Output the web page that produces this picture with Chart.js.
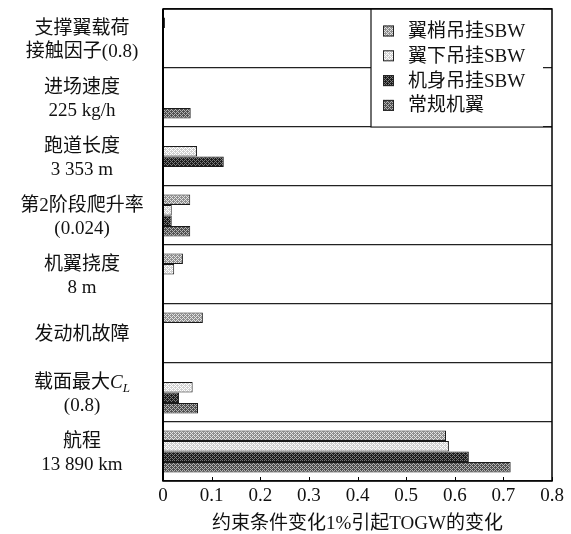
<!DOCTYPE html>
<html>
<head>
<meta charset="utf-8">
<script src="https://cdn.jsdelivr.net/npm/chart.js@4.4.0/dist/chart.umd.min.js"></script>
<style>
  html, body { margin: 0; padding: 0; background: #fff; }
  #wrap { width: 571px; height: 534px; }
</style>
</head>
<body>
<div id="wrap"><canvas id="c" width="571" height="534"></canvas></div>
<script>
// Constraint categories (each entry = lines of the axis label)
const categories = [
  ['支撑翼载荷', '接触因子(0.8)'],
  ['进场速度', '225 kg/h'],
  ['跑道长度', '3 353 m'],
  ['第2阶段爬升率', '(0.024)'],
  ['机翼挠度', '8 m'],
  ['发动机故障'],
  ['载面最大C_L', '(0.8)'],
  ['航程', '13 890 km']
];

const seriesNames = ['翼梢吊挂SBW', '翼下吊挂SBW', '机身吊挂SBW', '常规机翼'];

// TOGW change per 1% constraint change
const wingtipSBW      = [0.004, null, null,  0.056, 0.041, 0.082, null,  0.582];
const underwingSBW    = [null,  null, 0.070, 0.018, 0.023, null,  0.061, 0.588];
const fuselageSBW     = [null,  null, 0.125, 0.018, null,  null,  0.033, 0.629];
const conventionalWing = [null, 0.057, null, 0.056, null,  null,  0.072, 0.715];

const xTickValues = [0, 0.1, 0.2, 0.3, 0.4, 0.5, 0.6, 0.7, 0.8];
const xTitle = '约束条件变化1%引起TOGW的变化';

const FONT = "'Liberation Serif', 'Noto Sans CJK SC', serif";

// Dithered grey fills for the bars
function makePattern(dark, light) {
  const t = document.createElement('canvas');
  t.width = 4; t.height = 4;
  const g = t.getContext('2d');
  const map = [
    [1, 0, 1, 0],
    [0, 0, 0, 1],
    [1, 0, 1, 0],
    [0, 1, 0, 0]
  ];
  for (let y = 0; y < 4; y++) {
    for (let x = 0; x < 4; x++) {
      g.fillStyle = map[y][x] ? light : dark;
      g.fillRect(x, y, 1, 1);
    }
  }
  return document.getElementById('c').getContext('2d').createPattern(t, 'repeat');
}

const fills = [
  makePattern('#8e8e8e', '#e2e2e2'),
  makePattern('#cfcfcf', '#ffffff'),
  makePattern('#1c1c1c', '#7a7a7a'),
  makePattern('#505050', '#b4b4b4')
];

const seriesValues = [wingtipSBW, underwingSBW, fuselageSBW, conventionalWing];

const framePlugin = {
  id: 'frame',
  afterDatasetsDraw(chart) {
    const ctx = chart.ctx;
    const a = chart.chartArea;
    const xs = chart.scales.x;
    const ys = chart.scales.y;
    ctx.save();

    // inward tick marks on the bottom axis
    ctx.strokeStyle = '#000';
    ctx.lineWidth = 1;
    xTickValues.forEach(v => {
      const px = Math.round(xs.getPixelForValue(v)) + 0.5;
      ctx.beginPath();
      ctx.moveTo(px, a.bottom);
      ctx.lineTo(px, a.bottom - 4);
      ctx.stroke();
    });

    // legend box in the upper right corner
    const sepY = (ys.getPixelForValue(1) + ys.getPixelForValue(2)) / 2;
    const lx = a.right - 181;
    ctx.fillStyle = '#fff';
    ctx.fillRect(lx, a.top, a.right - 9 - lx, sepY - a.top);
    ctx.strokeStyle = '#111';
    ctx.lineWidth = 1.2;
    ctx.beginPath();
    ctx.moveTo(lx, a.top);
    ctx.lineTo(lx, sepY);
    ctx.lineTo(a.right, sepY);
    ctx.stroke();

    ctx.font = '19px ' + FONT;
    ctx.textBaseline = 'middle';
    ctx.textAlign = 'left';
    chart.data.datasets.forEach((ds, i) => {
      const cy = a.top + 22 + i * 24.8;
      ctx.fillStyle = ds.backgroundColor;
      ctx.fillRect(lx + 12, cy - 5.5, 11, 11);
      ctx.strokeStyle = '#222';
      ctx.lineWidth = 1;
      ctx.strokeRect(lx + 12.5, cy - 5, 10, 10);
      ctx.fillStyle = '#111';
      ctx.fillText(ds.label, lx + 37, cy + 1);
    });

    // plot frame
    ctx.strokeStyle = '#000';
    ctx.lineWidth = 1.5;
    ctx.strokeRect(a.left, a.top, a.right - a.left, a.bottom - a.top);
    ctx.lineWidth = 2;
    ctx.beginPath();
    ctx.moveTo(a.left, a.top);
    ctx.lineTo(a.left, a.bottom);
    ctx.stroke();

    // category labels, centred to the left of the plot
    const cx = 82;
    ctx.fillStyle = '#111';
    ctx.textBaseline = 'middle';
    categories.forEach((lines, i) => {
      const cy = ys.getPixelForValue(i) + 2;
      const lh = 22.5;
      const y0 = cy - (lines.length - 1) * lh / 2;
      lines.forEach((line, k) => {
        const y = y0 + k * lh;
        const m = line.match(/^(.*)([A-Za-z])_([A-Za-z])$/);
        if (m) {
          const base = '19px ' + FONT;
          const ital = 'italic 19px ' + FONT;
          const sub = 'italic 13px ' + FONT;
          ctx.font = base; const w1 = ctx.measureText(m[1]).width;
          ctx.font = ital; const w2 = ctx.measureText(m[2]).width;
          ctx.font = sub; const w3 = ctx.measureText(m[3]).width;
          let x = cx - (w1 + w2 + w3) / 2;
          ctx.textAlign = 'left';
          ctx.font = base; ctx.fillText(m[1], x, y); x += w1;
          ctx.font = ital; ctx.fillText(m[2], x, y); x += w2;
          ctx.font = sub; ctx.fillText(m[3], x, y + 5);
        } else {
          ctx.font = '19px ' + FONT;
          ctx.textAlign = 'center';
          ctx.fillText(line, cx, y);
        }
      });
    });

    ctx.restore();
  }
};

new Chart(document.getElementById('c'), {
  type: 'bar',
  data: {
    labels: categories.map(c => c.join(' ')),
    datasets: seriesNames.map((name, i) => ({
      label: name,
      data: seriesValues[i],
      backgroundColor: fills[i],
      borderColor: '#1a1a1a',
      borderWidth: 1,
      categoryPercentage: 0.71,
      barPercentage: 1.0
    }))
  },
  options: {
    indexAxis: 'y',
    responsive: false,
    animation: false,
    devicePixelRatio: 1,
    layout: { padding: { top: 9, right: 19, left: 0, bottom: 0 } },
    plugins: {
      legend: { display: false },
      tooltip: { enabled: false }
    },
    scales: {
      x: {
        type: 'linear',
        min: 0,
        max: 0.8,
        afterBuildTicks: s => { s.ticks = xTickValues.map(v => ({ value: v })); },
        ticks: {
          color: '#111',
          font: { family: FONT, size: 19 },
          padding: 4,
          maxRotation: 0,
          autoSkip: false,
          callback: v => String(+v.toFixed(1))
        },
        grid: { display: false, drawTicks: false },
        border: { display: false },
        title: {
          display: true,
          text: xTitle,
          color: '#111',
          font: { family: FONT, size: 19, lineHeight: 1 },
          padding: { top: 0, bottom: 0 }
        },
        afterFit: s => { s.height = 53; }
      },
      y: {
        type: 'category',
        ticks: { display: false },
        grid: { offset: true, color: '#222', lineWidth: 1.2, drawTicks: false },
        border: { display: false },
        afterFit: s => { s.width = 163; }
      }
    }
  },
  plugins: [framePlugin]
});
</script>
</body>
</html>
